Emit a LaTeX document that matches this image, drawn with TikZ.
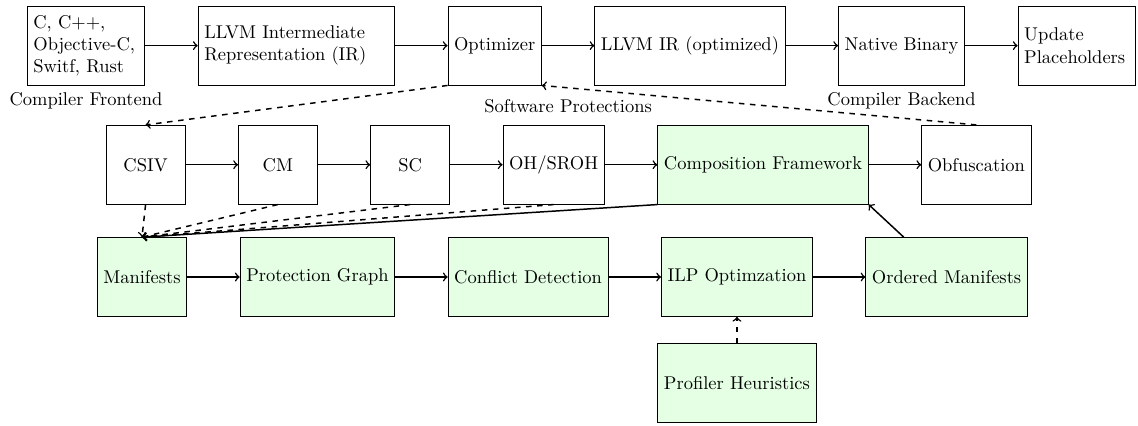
\documentclass[tikz,border=0pt]{standalone}
\usetikzlibrary{positioning}

\begin{document}
\begin{tikzpicture}[
          node distance=1cm,
          box/.style={draw, minimum width=1.5cm, minimum height=1.5cm},
          newbox/.style={box, fill=green!10},
          flow/.style={->, thick},
          feed/.style={->, thick, dashed},
        ]
        \useasboundingbox (0,0) rectangle (21.63,-8.08);
        % compiler
        \node [box, anchor=north west, text width=2cm, align=left] (src) at (0.51,-0.11) {C, C++,\\ Objective-C,\\ Switf, Rust};
        \node [box, right=of src, text width=3.5cm, align=left] (ir) {LLVM Intermediate\\ Representation (IR)};
        \node [box, right=of ir] (opt) {Optimizer};
        \node [box, right=of opt] (iropt) {LLVM IR (optimized)};
        \node [box, right=of iropt] (bin) {Native Binary};
        \node [box, right=of bin, text width=2cm, align=left] (upd) {Update\\ Placeholders};
        \node [below=0pt of src] (front) {Compiler Frontend};
        \node [below=0pt of bin] (back) {Compiler Backend};
        \path (opt.south east) -- node [below=4pt] (prot) {Software Protections} (iropt.south west);
        % protections
        \node [box, anchor=north west] (csiv) at ([xshift=1.5cm, yshift=-0.75cm]src.south west) {CSIV};
        \node [box, right=of csiv] (cm) {CM};
        \node [box, right=of cm] (sc) {SC};
        \node [box, right=of sc] (oh) {OH/SROH};
        \node [newbox, right=of oh] (comp) {Composition Framework};
        \node [box, right=of comp] (obf) {Obfuscation};
        % composition
        \node [newbox, anchor=north west] (man) at ([xshift=-0.17cm, yshift=-0.62cm]csiv.south west) {Manifests};
        \node [newbox, right=of man] (graph) {Protection Graph};
        \node [newbox, right=of graph] (conf) {Conflict Detection};
        \node [newbox, right=of conf] (ilp) {ILP Optimzation};
        \node [newbox, right=of ilp] (ord) {Ordered Manifests};
        \node [newbox, below=0.5cm of ilp] (prof) {Profiler Heuristics};

        \draw [flow] (src) -- (ir);
        \draw [flow] (ir) -- (opt);
        \draw [flow] (opt) -- (iropt);
        \draw [flow] (iropt) -- (bin);
        \draw [flow] (bin) -- (upd);
        \draw [feed] (opt.south west) -- (csiv.north);
        \draw [feed] (obf.north) -- (opt.south east);
        \draw [flow] (csiv) -- (cm);
        \draw [flow] (cm) -- (sc);
        \draw [flow] (sc) -- (oh);
        \draw [flow] (oh) -- (comp);
        \draw [flow] (comp) -- (obf);
        \draw [feed] (csiv.south) -- (man.north);
        \draw [feed] (cm.south) -- (man.north);
        \draw [feed] (sc.south) -- (man.north);
        \draw [feed] (oh.south) -- (man.north);
        \draw [flow] (comp.south west) -- (man.north);
        \draw [flow] (man) -- (graph);
        \draw [flow] (graph) -- (conf);
        \draw [flow] (conf) -- (ilp);
        \draw [flow] (ilp) -- (ord);
        \draw [flow] (ord) -- (comp.south east);
        \draw [feed] (prof) -- (ilp);
      \end{tikzpicture}
\end{document}
